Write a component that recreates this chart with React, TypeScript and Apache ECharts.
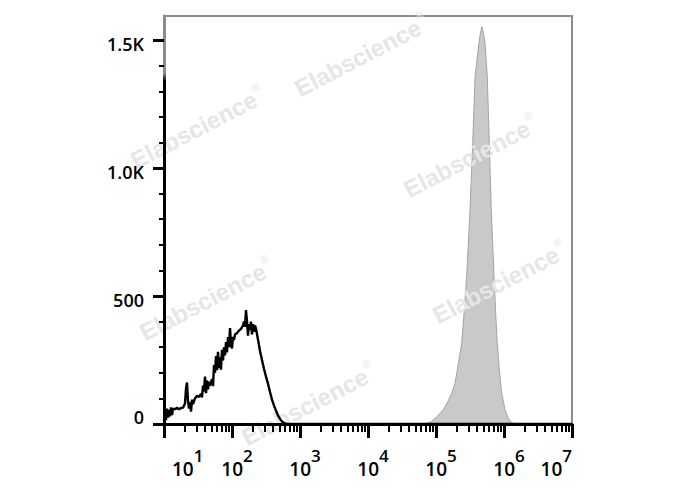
import React, { useEffect, useRef } from 'react';
import * as echarts from 'echarts';

// ---- axis definitions ----
const xDecades = [1, 2, 3, 4, 5, 6, 7]; // log10 of the decade ticks
const xMinorMultipliers = [2, 3, 4, 5, 6, 7, 8, 9];
const yMajorTicks = [0, 500, 1000, 1500];
const yMajorLabels = ['0', '500', '1.0K', '1.5K'];
const yMinorTicks = [100, 200, 300, 400, 600, 700, 800, 900, 1100, 1200, 1300, 1400];
const yMax = 1594;

// ---- unstained control (black outline), x in log10 units ----
const blackLogX = [
  1.000, 1.015, 1.029, 1.044, 1.059, 1.074, 1.088, 1.103, 1.118, 1.132,
  1.162, 1.191, 1.221, 1.250, 1.279, 1.309, 1.324, 1.338, 1.353, 1.368,
  1.382, 1.397, 1.412, 1.426, 1.456, 1.485, 1.515, 1.544, 1.559, 1.574,
  1.588, 1.603, 1.618, 1.632, 1.647, 1.662, 1.676, 1.706, 1.721, 1.735,
  1.750, 1.765, 1.779, 1.794, 1.809, 1.824, 1.838, 1.853, 1.868, 1.882,
  1.897, 1.912, 1.926, 1.941, 1.956, 1.971, 1.985, 2.000, 2.015, 2.029,
  2.044, 2.074, 2.103, 2.132, 2.162, 2.176, 2.191, 2.206, 2.221, 2.235,
  2.250, 2.265, 2.279, 2.294, 2.309, 2.324, 2.338, 2.353, 2.382, 2.412,
  2.441, 2.471, 2.500, 2.529, 2.559, 2.588, 2.618, 2.647, 2.676, 2.706,
  2.735, 2.765, 2.794, 2.824, 2.853, 7.000,
];
const blackCounts = [
  10, 45, 15, 60, 25, 55, 30, 65, 35, 60,
  58, 63, 58, 62, 64, 80, 140, 162, 90, 60,
  85, 48, 95, 78, 100, 110, 106, 118, 104, 150,
  128, 185, 120, 170, 135, 165, 150, 175, 148, 230,
  200, 265, 210, 282, 218, 260, 212, 290, 248, 300,
  268, 320, 280, 340, 300, 375, 310, 295, 340, 328,
  350, 355, 365, 372, 385, 400, 380, 445, 398, 345,
  390, 368, 400, 350, 390, 360, 385, 372, 330, 285,
  250, 215, 185, 158, 125, 95, 72, 52, 34, 20,
  10, 4, 1, 0, 0, 0,
];

// ---- stained sample (grey filled), x in log10 units ----
const greyLogX = [
  1.000, 4.765, 4.800, 4.850, 4.920, 5.000, 5.050, 5.107, 5.170, 5.231,
  5.280, 5.313, 5.378, 5.415, 5.451, 5.500, 5.540, 5.574, 5.610, 5.632,
  5.655, 5.676, 5.700, 5.721, 5.754, 5.784, 5.813, 5.853, 5.880, 5.901,
  5.931, 5.966, 6.015, 6.063, 6.100, 6.132, 6.200, 7.000,
];
const greyCounts = [
  0, 0, 1, 2, 8, 25, 40, 55, 85, 120,
  160, 211, 315, 440, 576, 836, 1097, 1357, 1440, 1488,
  1530, 1552, 1525, 1488, 1357, 1097, 836, 576, 420, 315,
  211, 120, 55, 22, 8, 3, 0, 0,
];

// ---- watermark placement ----
const watermarkText = 'Elabscience';
const watermarkCenters = [
  [361, 54],
  [197, 126],
  [470, 155],
  [206, 298],
  [499, 281],
  [308, 403],
];

const FONT = '"Open Sans", "Liberation Sans", Arial, sans-serif';

export default function App() {
  const ref = useRef<HTMLDivElement>(null);

  useEffect(() => {
    if (!ref.current) return;
    const chart = echarts.init(ref.current, undefined, { renderer: 'svg' });

    const xMinorTicks: number[] = [];
    xDecades.slice(0, -1).forEach((d) => {
      xMinorMultipliers.forEach((m) => xMinorTicks.push(d + Math.log10(m)));
    });

    const black = blackLogX.map((x, i) => [x, blackCounts[i]]);
    const grey = greyLogX.map((x, i) => [x, greyCounts[i]]);

    const xLabelFormatter = (v: number) => {
      const n = Math.round(v);
      if (n === xDecades[0]) return `{f|10}{s|${n}}`;
      return `{b|10}{s|${n}}`;
    };

    const yLabelFormatter = (v: number) => {
      const idx = yMajorTicks.indexOf(v);
      const txt = idx >= 0 ? yMajorLabels[idx] : '';
      return v === 0 ? `{z|${txt}}` : `{n|${txt}}`;
    };

    const labelBase = { fontFamily: FONT, fontWeight: 600, color: '#000' };

    const option: any = {
      animation: false,
      backgroundColor: '#ffffff',
      grid: {
        left: 164,
        right: 116,
        top: 16,
        bottom: 66,
        show: true,
        borderColor: '#8c8c8c',
        borderWidth: 2,
        backgroundColor: 'transparent',
      },
      xAxis: [
        {
          type: 'value',
          min: 1,
          max: 7,
          interval: 1,
          position: 'bottom',
          z: 10,
          axisLine: { show: true, lineStyle: { color: '#000', width: 3 } },
          axisTick: {
            show: true,
            length: 14,
            lineStyle: { color: '#000', width: 3 },
            customValues: xDecades,
          },
          splitLine: { show: false },
          axisLabel: {
            show: true,
            margin: 32,
            customValues: xDecades,
            alignMinLabel: 'left',
            alignMaxLabel: 'right',
            formatter: xLabelFormatter,
            rich: {
              f: { ...labelBase, fontSize: 19, lineHeight: 22, verticalAlign: 'bottom', padding: [0, 0, 0, 8] },
              b: { ...labelBase, fontSize: 19, lineHeight: 22, verticalAlign: 'bottom', padding: [0, 0, 0, 10] },
              s: { ...labelBase, fontSize: 17, lineHeight: 18, verticalAlign: 'bottom', padding: [0, 0, 14, 0] },
            },
          },
        },
        {
          type: 'value',
          min: 1,
          max: 7,
          interval: 1,
          position: 'bottom',
          z: 10,
          axisLine: { show: false },
          axisTick: {
            show: true,
            length: 8,
            lineStyle: { color: '#000', width: 2 },
            customValues: xMinorTicks,
          },
          splitLine: { show: false },
          axisLabel: { show: false },
        },
      ],
      yAxis: [
        {
          type: 'value',
          min: 0,
          max: yMax,
          position: 'left',
          z: 10,
          axisLine: {
            show: true,
            lineStyle: {
              width: 3,
              color: new echarts.graphic.LinearGradient(
                0, 16, 0, 424,
                [
                  { offset: 0, color: '#8c8c8c' },
                  { offset: 0.14, color: '#8c8c8c' },
                  { offset: 0.16, color: '#000000' },
                  { offset: 1, color: '#000000' },
                ],
                true
              ),
            },
          },
          axisTick: {
            show: true,
            length: 11,
            lineStyle: { color: '#000', width: 3 },
            customValues: yMajorTicks,
          },
          splitLine: { show: false },
          axisLabel: {
            show: true,
            margin: 20,
            customValues: yMajorTicks,
            formatter: yLabelFormatter,
            rich: {
              n: { ...labelBase, fontSize: 18, padding: [8, 0, 0, 0] },
              z: { ...labelBase, fontSize: 18, padding: [0, 0, 14, 0] },
            },
          },
        },
        {
          type: 'value',
          min: 0,
          max: yMax,
          position: 'left',
          z: 10,
          axisLine: { show: false },
          axisTick: {
            show: true,
            length: 5,
            lineStyle: { color: '#000', width: 2 },
            customValues: yMinorTicks,
          },
          splitLine: { show: false },
          axisLabel: { show: false },
        },
      ],
      graphic: watermarkCenters.map(([cx, cy]) => ({
        type: 'text',
        x: cx,
        y: cy,
        rotation: (27.5 * Math.PI) / 180,
        z: 3,
        silent: true,
        style: {
          text: `{a|${watermarkText}}{r|®}`,
          align: 'center',
          verticalAlign: 'middle',
          rich: {
            a: { fontFamily: '"Liberation Sans", Arial, sans-serif', fontWeight: 'bold', fontSize: 24, fill: '#e6e6e6', lineHeight: 28, verticalAlign: 'bottom' },
            r: { fontFamily: '"Liberation Sans", Arial, sans-serif', fontSize: 11, fill: '#e6e6e6', lineHeight: 12, padding: [0, 0, 16, 1], verticalAlign: 'bottom' },
          },
        },
      })),
      series: [
        {
          type: 'line',
          name: 'stained',
          data: grey,
          xAxisIndex: 0,
          yAxisIndex: 0,
          showSymbol: false,
          symbol: 'none',
          smooth: false,
          z: 1,
          lineStyle: { color: '#a3a3a3', width: 1 },
          areaStyle: { color: '#c9c9c9', opacity: 1 },
        },
        {
          type: 'line',
          name: 'control',
          data: black,
          xAxisIndex: 0,
          yAxisIndex: 0,
          showSymbol: false,
          symbol: 'none',
          smooth: false,
          z: 4,
          lineStyle: { color: '#000', width: 2.4 },
        },
      ],
    };

    chart.setOption(option);
    return () => chart.dispose();
  }, []);

  return (
    <div
      ref={ref}
      style={{ position: 'absolute', left: 0, top: 0, width: 688, height: 490, background: '#fff' }}
    />
  );
}
